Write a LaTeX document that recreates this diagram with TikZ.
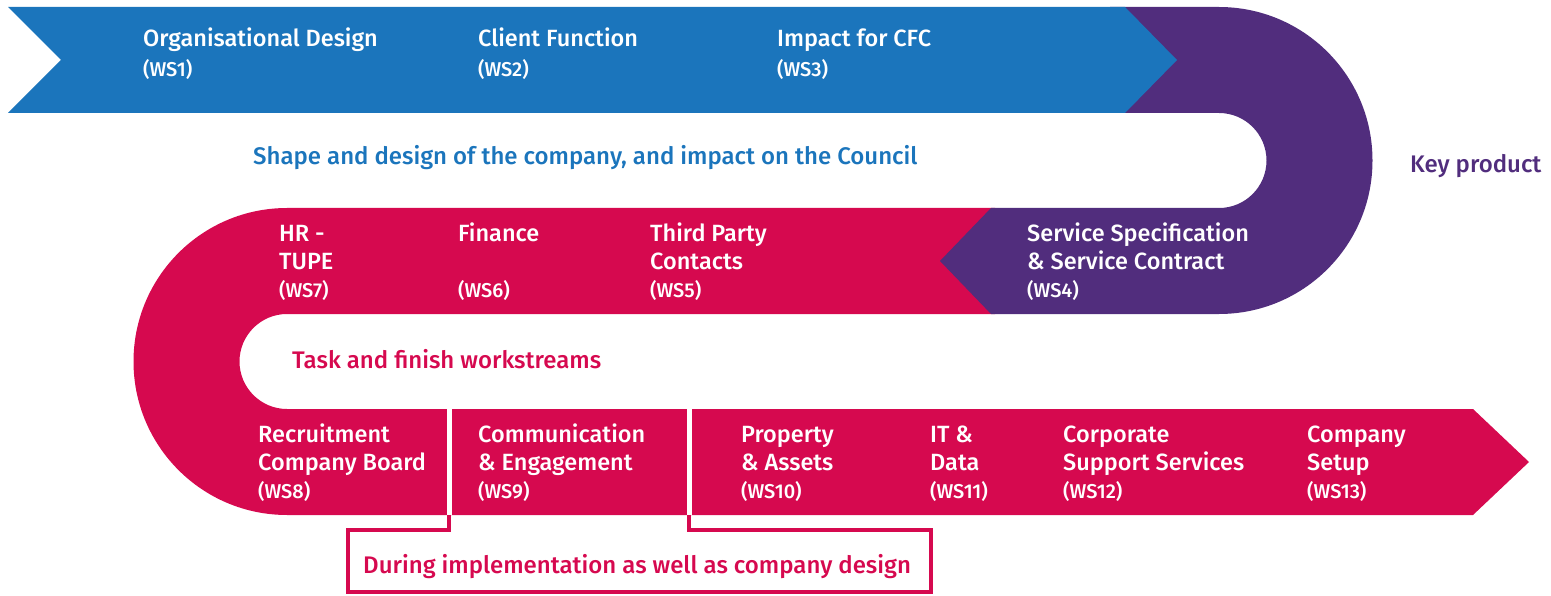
\documentclass[tikz,border=0pt]{standalone}
\usepackage{fontspec}
\setmainfont{Fira Sans Medium}

\definecolor{wsblue}{HTML}{1B75BC}
\definecolor{wspurple}{HTML}{512D7D}
\definecolor{wspink}{HTML}{D6094F}

\tikzset{
    wslabel/.style={anchor=base west, inner sep=0pt, align=left, text=white,
        font=\fontsize{23.5}{28}\selectfont},
    wstop/.style={wslabel, font=\fontsize{23.5}{30}\selectfont},
    caption/.style={anchor=base west, inner sep=0pt, font=\fontsize{24}{28}\selectfont}
}
\newcommand{\wsno}[1]{{\fontsize{20}{28}\selectfont(WS#1)}}

\begin{document}
\begin{tikzpicture}[x=1pt, y=-1pt]
\useasboundingbox (0,0) rectangle (1551,596);

% pink band: middle row, left bend, bottom row
\fill[wspink] (995,208) -- (287,208) arc (270:90:153.5) -- (1473,515) -- (1529,462)
    -- (1473,409) -- (287,409) arc (90:270:47.5) -- (995,314) -- cycle;

% purple band: right bend and key product
\fill[wspurple] (1110,7) -- (1219,7) arc (-90:90:153.5) -- (991,314) -- (940,261)
    -- (991,208) -- (1219,208) arc (90:-90:47.5) -- (1110,113) -- cycle;

% blue band: top row
\fill[wsblue] (8,7) -- (1125,7) -- (1177,60) -- (1125,113) -- (8,113) -- (61,60) -- cycle;

% gaps and bracket
\fill[white] (446.5,409) rectangle (451.5,515);
\fill[white] (686.5,409) rectangle (691.5,515);
\draw[wspink, line width=4.5pt] (449,515) -- (449,530) -- (348,530) -- (348,592)
    -- (931,592) -- (931,530) -- (689,530) -- (689,515);

% top row (anchored on the last line)
\node[wstop] (ws1) at (143,77) {Organisational Design\\\wsno{1}};
\node[wstop] (ws2) at (478,77) {Client Function\\\wsno{2}};
\node[wstop] (ws3) at (777,77) {Impact for CFC\\\wsno{3}};

% middle row
\node[wslabel] (ws7) at (279,298) {HR -\\TUPE\\\wsno{7}};
\node[wslabel] (ws6) at (458,298) {Finance\\\mbox{}\\\wsno{6}};
\node[wslabel] (ws5) at (650,298) {Third Party\\Contacts\\\wsno{5}};
\node[wslabel] (ws4) at (1027,298) {Service Specification\\\& Service Contract\\\wsno{4}};

% bottom row
\node[wslabel] (ws8) at (258,498) {Recruitment\\Company Board\\\wsno{8}};
\node[wslabel] (ws9) at (478,498) {Communication\\\& Engagement\\\wsno{9}};
\node[wslabel] (ws10) at (741,498) {Property\\\& Assets\\\wsno{10}};
\node[wslabel] (ws11) at (930,498) {IT \&\\Data\\\wsno{11}};
\node[wslabel] (ws12) at (1063,498) {Corporate\\Support Services\\\wsno{12}};
\node[wslabel] (ws13) at (1307,498) {Company\\Setup\\\wsno{13}};

% captions
\node[caption, text=wsblue] (shape) at (253,165) {Shape and design of the company, and impact on the Council};
\node[caption, text=wspurple] (key) at (1410,173) {Key product};
\node[caption, text=wspink] (task) at (292,368) {Task and finish workstreams};
\node[caption, text=wspink] (impl) at (363,573) {During implementation as well as company design};

\end{tikzpicture}
\end{document}
